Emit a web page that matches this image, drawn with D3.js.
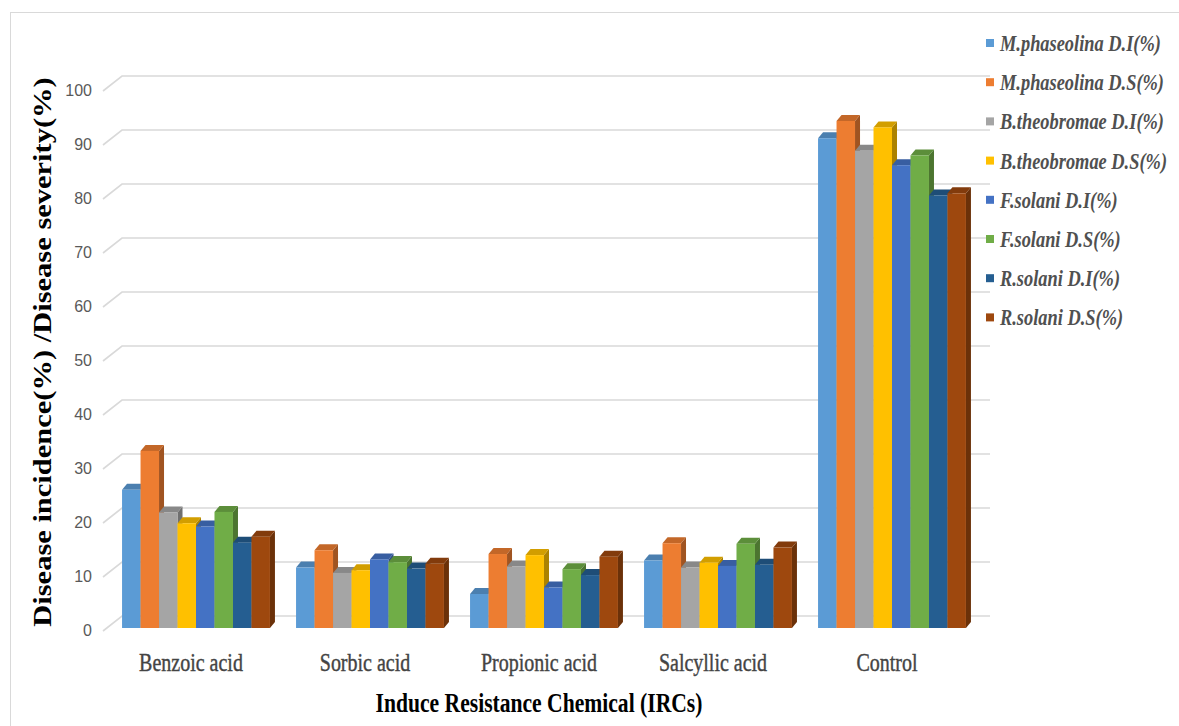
<!DOCTYPE html>
<html>
<head>
<meta charset="utf-8">
<script src="https://cdn.jsdelivr.net/npm/d3@7"></script>
<style>
  html, body { margin: 0; padding: 0; background: #fff; }
  svg { display: block; }
</style>
</head>
<body>
<svg id="chart" width="1179" height="726"></svg>
<script>
// Treatments on the x axis
const categories = ["Benzoic acid", "Sorbic acid", "Propionic acid", "Salcyllic acid", "Control"];

// Series (pathogen / measure)
const series = [
  "M.phaseolina D.I(%)", "M.phaseolina D.S(%)",
  "B.theobromae D.I(%)", "B.theobromae D.S(%)",
  "F.solani D.I(%)", "F.solani D.S(%)",
  "R.solani D.I(%)", "R.solani D.S(%)"
];

// Values per series, in category order
const mPhaseolinaDI  = [25.6, 11.2,  6.3, 12.5, 90.7];
const mPhaseolinaDS  = [32.8, 14.4, 13.7, 15.7, 93.9];
const bTheobromaeDI  = [21.4, 10.2, 11.4, 11.2, 88.4];
const bTheobromaeDS  = [19.4, 10.7, 13.5, 12.1, 92.7];
const fSolaniDI      = [18.8, 12.7,  7.5, 11.5, 85.7];
const fSolaniDS      = [21.5, 12.2, 10.9, 15.6, 87.5];
const rSolaniDI      = [15.8, 11.0,  9.8, 11.7, 80.1];
const rSolaniDS      = [16.9, 11.9, 13.2, 14.9, 80.5];

const yTicks = [0, 10, 20, 30, 40, 50, 60, 70, 80, 90, 100];

const colors = ["#5B9BD5", "#ED7D31", "#A5A5A5", "#FFC000", "#4472C4", "#70AD47", "#255E91", "#9E480E"];

const seriesValues = [mPhaseolinaDI, mPhaseolinaDS, bTheobromaeDI, bTheobromaeDS,
                      fSolaniDI, fSolaniDS, rSolaniDI, rSolaniDS];

const svg = d3.select("#chart");
const serif = "'Liberation Serif', 'Times New Roman', serif";
const squeeze = 0.8;          // horizontal text compression
const textGray = "#595959";

// chart area border
svg.append("rect")
  .attr("x", 10.5).attr("y", 12.5)
  .attr("width", 1200).attr("height", 800)
  .attr("fill", "none").attr("stroke", "#d9d9d9");

// Scales
const y = d3.scaleLinear().domain([0, 100]).range([628, 88]);
const x0 = d3.scaleBand().domain(categories).range([109, 979])
  .paddingInner(0.15).paddingOuter(0.075);
const x1 = d3.scaleBand().domain(series).range([0, x0.bandwidth()]);

// 3D offsets
const wallDx = 19, wallDy = 15;   // front floor edge -> back wall
const barDx = 5, barDy = 6;       // bar depth

// Back wall gridlines with slanted floor/side ticks
const grid = svg.append("g");
const wallLeft = 122, wallRight = 990;
yTicks.forEach(t => {
  const yb = y(t) - 12;
  grid.append("path")
    .attr("d", `M${wallLeft - wallDx},${yb + wallDy} L${wallLeft},${yb} L${wallRight},${yb}`)
    .attr("fill", "none")
    .attr("stroke", "#d9d9d9")
    .attr("stroke-width", 1.6);
});

// Y tick labels
svg.append("g").selectAll("text")
  .data(yTicks).join("text")
  .attr("x", 92)
  .attr("y", d => y(d) + 2)
  .attr("dy", "0.35em")
  .attr("text-anchor", "end")
  .attr("font-family", "'Liberation Sans', Arial, sans-serif")
  .attr("font-size", 16)
  .attr("fill", textGray)
  .text(d => d);

// Bars
const bars = svg.append("g");
categories.forEach((cat, ci) => {
  series.forEach((s, si) => {
    const v = seriesValues[si][ci];
    const xl = x0(cat) + x1(s);
    const xr = xl + x1.bandwidth();
    const yt = y(v);
    const yb = y(0);
    const base = d3.color(colors[si]);
    const g = bars.append("g");
    // side face
    g.append("path")
      .attr("d", `M${xr},${yt} L${xr + barDx},${yt - barDy} L${xr + barDx},${yb - barDy} L${xr},${yb} Z`)
      .attr("fill", base.darker(1.1).formatHex());
    // top face
    g.append("path")
      .attr("d", `M${xl},${yt} L${xl + barDx},${yt - barDy} L${xr + barDx},${yt - barDy} L${xr},${yt} Z`)
      .attr("fill", base.darker(0.55).formatHex());
    // front face
    g.append("rect")
      .attr("x", xl).attr("y", yt)
      .attr("width", x1.bandwidth()).attr("height", yb - yt)
      .attr("fill", colors[si]);
  });
});

// Category labels
svg.append("g").selectAll("text")
  .data(categories).join("text")
  .attr("transform", d => `translate(${x0(d) + x0.bandwidth() / 2 - 5},671) scale(${squeeze},1)`)
  .attr("text-anchor", "middle")
  .attr("font-family", serif)
  .attr("font-size", 25)
  .attr("fill", "#444")
  .attr("stroke", "#444")
  .attr("stroke-width", 0.4)
  .text(d => d);

// X axis title
svg.append("text")
  .attr("transform", `translate(539,712) scale(${squeeze},1)`)
  .attr("text-anchor", "middle")
  .attr("font-family", serif)
  .attr("font-weight", "bold")
  .attr("font-size", 27)
  .attr("fill", "#000")
  .text("Induce Resistance Chemical (IRCs)");

// Y axis title
svg.append("text")
  .attr("transform", `translate(51,352) scale(${squeeze},1) rotate(-90)`)
  .attr("text-anchor", "middle")
  .attr("font-family", serif)
  .attr("font-weight", "bold")
  .attr("font-size", 30.5)
  .attr("fill", "#000")
  .text("Disease incidence(%) /Disease severity(%)");

// Legend
const legend = svg.append("g");
series.forEach((s, i) => {
  const cy = 43 + i * 39.2;
  legend.append("rect")
    .attr("x", 986).attr("y", cy - 4)
    .attr("width", 8).attr("height", 8)
    .attr("fill", colors[i]);
  legend.append("text")
    .attr("transform", `translate(1000,${cy}) scale(${squeeze},1)`)
    .attr("dy", "0.35em")
    .attr("font-family", serif)
    .attr("font-weight", "bold")
    .attr("font-style", "italic")
    .attr("font-size", 23)
    .attr("fill", "#505050")
    .text(s);
});
</script>
</body>
</html>
